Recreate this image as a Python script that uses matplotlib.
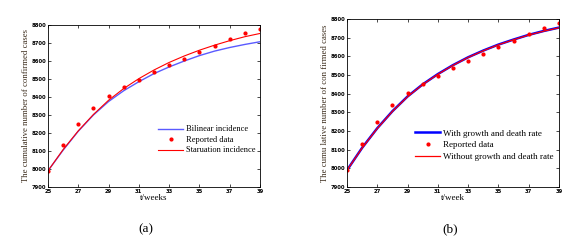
import numpy as np
import matplotlib.pyplot as plt

weeks = [25, 26, 27, 28, 29, 30, 31, 32, 33, 34, 35, 36, 37, 38, 39]
reported = [7990, 8132, 8250, 8340, 8405, 8453, 8492, 8540, 8577, 8612, 8651, 8681, 8720, 8753, 8778]
bilinear = [7990, 8105, 8210, 8300, 8375, 8435, 8485, 8530, 8567, 8600, 8630, 8655, 8675, 8692, 8707]
saturation = [7990, 8108, 8212, 8303, 8382, 8447, 8502, 8550, 8592, 8628, 8660, 8688, 8713, 8735, 8753]
with_gd = [7990, 8110, 8215, 8306, 8385, 8450, 8505, 8553, 8595, 8631, 8663, 8690, 8715, 8736, 8754]
without_gd = [7990, 8109, 8214, 8305, 8384, 8449, 8504, 8552, 8594, 8630, 8662, 8689, 8714, 8735, 8753]

xticks = [25, 27, 29, 31, 33, 35, 37, 39]
yticks = list(range(7900, 8801, 100))

plt.rcParams['font.family'] = ['Liberation Serif', 'DejaVu Serif']

fig = plt.figure(figsize=(5.75, 2.44), dpi=100)
ax1 = fig.add_axes([48/575, 1-187/244, 212/575, 162/244])
ax2 = fig.add_axes([347/575, 1-187/244, 212/575, 168/244])

def style(ax, xlabel, ylabel):
    ax.set_xlim(25, 39)
    ax.set_ylim(7900, 8800)
    ax.set_xticks(xticks)
    ax.set_yticks(yticks)
    ax.tick_params(labelsize=3.8, length=2, width=0.5, direction='in', top=True, right=True, pad=1.5)
    for lab in ax.get_xticklabels() + ax.get_yticklabels():
        lab.set_family('DejaVu Sans')
        lab.set_weight('bold')
    for s in ax.spines.values():
        s.set_linewidth(0.6)
    ax.set_xlabel(xlabel, fontsize=6.5, labelpad=0)
    ax.set_ylabel(ylabel, fontsize=6.3, labelpad=1, color='#3a2a1a')

ax1.plot(weeks, bilinear, color='#5a5aff', lw=1.0, label='Bilinear incidence')
ax1.plot(weeks, reported, 'o', color='red', ms=2, lw=0, label='Reported data')
ax1.plot(weeks, saturation, color='red', lw=0.8, label='Staruation incidence')
style(ax1, 't/weeks', 'The cumulative number of confirmed cases')
ax1.legend(loc='lower right', bbox_to_anchor=(1.0, 0.17), frameon=False, fontsize=6,
           handlelength=3, handletextpad=0.3, labelspacing=0.3, borderaxespad=0.2)

ax2.plot(weeks, with_gd, color='blue', lw=1.8, label='With growth and death rate')
ax2.plot(weeks, reported, 'o', color='red', ms=2, lw=0, label='Reported data')
ax2.plot(weeks, without_gd, color='#ff0000', lw=0.9, label='Without growth and death rate')
style(ax2, 't/week', 'The cumu lative number of con firmed cases')
ax2.legend(loc='lower right', bbox_to_anchor=(1.0, 0.12), frameon=False, fontsize=6.5,
           handlelength=2.8, handletextpad=0.3, labelspacing=0.4, borderaxespad=0.2)

fig.text(146/575, 1-229/244, '(a)', fontsize=9.5, ha='center', va='center')
fig.text(450/575, 1-229/244, '(b)', fontsize=9.5, ha='center', va='center')

fig.savefig('out.png', dpi=100)
